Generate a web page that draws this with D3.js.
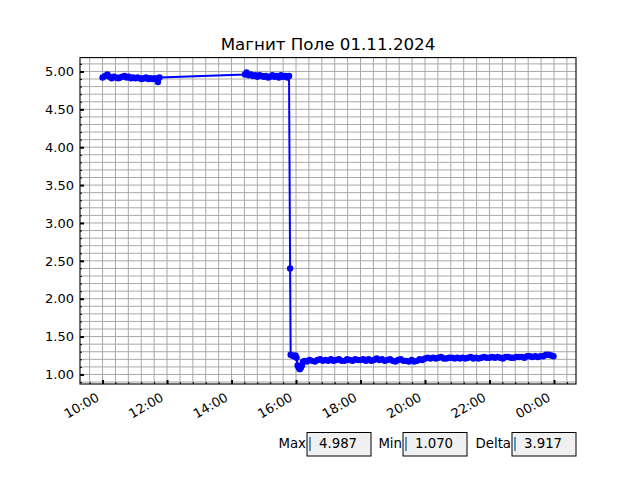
<!DOCTYPE html>
<html>
<head>
<meta charset="utf-8">
<script src="https://cdn.jsdelivr.net/npm/d3@7"></script>
<style>
    body { margin: 0; background: #fff; }
    svg { display: block; font-family: "DejaVu Sans", sans-serif; }
</style>
</head>
<body>
<svg id="chart" width="640" height="480"></svg>
<script>
const title = 'Магнит Поле 01.11.2024'

// readings (time of day, value)
const times = [
    '10:00','10:05','10:09','10:13','10:17','10:21','10:25','10:29','10:33','10:37','10:41','10:45','10:49','10:53','10:57',
    '11:01','11:05','11:09','11:13','11:17','11:21','11:25','11:29','11:33','11:37','11:41','11:43','11:46',
    '14:25','14:28','14:32','14:36','14:40','14:44','14:48','14:52','14:56',
    '15:00','15:04','15:08','15:12','15:16','15:20','15:24','15:28','15:32','15:36','15:40','15:44','15:47',
    '15:49','15:50','15:53','15:56','15:59',
    '16:01','16:03','16:05','16:07','16:09','16:11','16:13','16:16',
    '16:20','16:25','16:30','16:35','16:40','16:45','16:50','16:55',
    '17:00','17:05','17:10','17:15','17:20','17:25','17:30','17:35','17:40','17:45','17:50','17:55',
    '18:00','18:05','18:10','18:15','18:20','18:25','18:30','18:35','18:40','18:45','18:50','18:55',
    '19:00','19:05','19:10','19:15','19:20','19:25','19:30','19:35','19:40','19:45','19:50','19:55',
    '20:00','20:05','20:10','20:15','20:20','20:25','20:30','20:35','20:40','20:45','20:50','20:55',
    '21:00','21:05','21:10','21:15','21:20','21:25','21:30','21:35','21:40','21:45','21:50','21:55',
    '22:00','22:05','22:10','22:15','22:20','22:25','22:30','22:35','22:40','22:45','22:50','22:55',
    '23:00','23:05','23:10','23:15','23:20','23:25','23:30','23:35','23:40','23:45','23:50','23:55',
    '23:59'
]

const values = [
    4.92,4.94,4.96,4.93,4.91,4.93,4.92,4.91,4.92,4.93,4.94,4.92,4.93,4.91,4.92,
    4.91,4.92,4.91,4.90,4.91,4.92,4.90,4.91,4.90,4.91,4.90,4.86,4.92,
    4.96,4.987,4.95,4.96,4.94,4.95,4.93,4.95,4.94,
    4.93,4.94,4.92,4.93,4.95,4.93,4.94,4.92,4.95,4.93,4.94,4.92,4.94,
    2.40,1.26,1.25,1.24,1.25,
    1.22,1.12,1.09,1.07,1.09,1.12,1.17,1.18,
    1.17,1.19,1.18,1.17,1.19,1.20,1.18,1.19,
    1.18,1.20,1.18,1.19,1.20,1.18,1.18,1.20,1.19,1.18,1.20,1.19,
    1.19,1.20,1.18,1.20,1.18,1.19,1.21,1.19,1.20,1.18,1.19,1.20,
    1.18,1.17,1.19,1.20,1.18,1.18,1.17,1.19,1.17,1.18,1.20,1.19,
    1.21,1.22,1.21,1.22,1.21,1.22,1.23,1.21,1.21,1.22,1.22,1.21,
    1.22,1.21,1.22,1.21,1.22,1.23,1.21,1.22,1.21,1.22,1.23,1.22,
    1.22,1.23,1.22,1.23,1.22,1.21,1.23,1.23,1.22,1.22,1.23,1.23,
    1.23,1.22,1.24,1.24,1.23,1.24,1.23,1.24,1.24,1.26,1.26,1.25,
    1.24
]

const xTickLabels = ['10:00','12:00','14:00','16:00','18:00','20:00','22:00','00:00']
const yTickValues = [1.0, 1.5, 2.0, 2.5, 3.0, 3.5, 4.0, 4.5, 5.0]
const statLabels = ['Max', 'Min', 'Delta']

//times before 06:00 belong to the next day
const toDate = s => {
    const [h, m] = s.split(':').map(Number)
    return new Date(2024, 10, h < 6 ? 2 : 1, h, m)
}

const data = times.map((t, i) => ({date: toDate(t), value: values[i]}))

const svg = d3.select('#chart')
const mLeft = 80, mRight = 576, mTop = 57.6, mBottom = 384

//scales with 5% margins like matplotlib
const [t0, t1] = d3.extent(data, d => d.date),
      padT = (t1 - t0) * 0.05,
      [v0, v1] = d3.extent(values),
      padV = (v1 - v0) * 0.05

const xScale = d3.scaleTime()
                 .domain([new Date(+t0 - padT), new Date(+t1 + padT)])
                 .range([mLeft, mRight])

const yScale = d3.scaleLinear()
                 .domain([v0 - padV, v1 + padV])
                 .range([mBottom, mTop])

//minor ticks: every 24 min and every 0.1
const [dx0, dx1] = xScale.domain()
const xMinor = d3.timeMinute.range(dx0, dx1).filter(d => (d.getHours() * 60 + d.getMinutes()) % 24 === 0)
const yMinor = d3.ticks(yScale.domain()[0], yScale.domain()[1], 50)
const xMajor = xTickLabels.map(toDate)

//grid
const grid = svg.append('g').attr('stroke', '#a8a8a8').attr('stroke-width', 1)
grid.selectAll('.gx')
    .data(xMinor)
    .join('line')
    .attr('x1', d => xScale(d)).attr('x2', d => xScale(d))
    .attr('y1', mTop).attr('y2', mBottom)
grid.selectAll('.gy')
    .data(yMinor)
    .join('line')
    .attr('x1', mLeft).attr('x2', mRight)
    .attr('y1', d => yScale(d)).attr('y2', d => yScale(d))

//line + markers
const line = d3.line().x(d => xScale(d.date)).y(d => yScale(d.value))
svg.append('path')
   .datum(data)
   .attr('d', line)
   .attr('fill', 'none')
   .attr('stroke', '#0000ff')
   .attr('stroke-width', 2)

svg.append('g')
   .selectAll('circle')
   .data(data)
   .join('circle')
   .attr('cx', d => xScale(d.date))
   .attr('cy', d => yScale(d.value))
   .attr('r', 3.2)
   .attr('fill', '#0000ff')

//axes, ticks pointing inward
const styleAxis = g => {
    g.select('.domain').remove()
    g.selectAll('line').attr('stroke', '#000')
    g.selectAll('text').attr('fill', '#000').style('font-size', '13px').style('font-family', '"DejaVu Sans"')
}

svg.append('g')
   .attr('transform', `translate(${mLeft},0)`)
   .call(d3.axisLeft(yScale).tickValues(yMinor).tickSize(-2).tickFormat(''))
   .call(styleAxis)
   .selectAll('line').attr('stroke-width', 1)

svg.append('g')
   .attr('transform', `translate(${mLeft},0)`)
   .call(d3.axisLeft(yScale).tickValues(yTickValues).tickSize(-4).tickPadding(6).tickFormat(d3.format('.2f')))
   .call(styleAxis)
   .selectAll('line').attr('stroke-width', 2)

svg.append('g')
   .attr('transform', `translate(0,${mBottom})`)
   .call(d3.axisBottom(xScale).tickValues(xMinor).tickSize(-2).tickFormat(''))
   .call(styleAxis)
   .selectAll('line').attr('stroke-width', 1)

const xAxis = svg.append('g')
   .attr('transform', `translate(0,${mBottom})`)
   .call(d3.axisBottom(xScale).tickValues(xMajor).tickSize(-4).tickFormat((d, i) => xTickLabels[i]))
   .call(styleAxis)

xAxis.selectAll('line').attr('stroke-width', 2)
xAxis.selectAll('text')
     .attr('text-anchor', 'end')
     .attr('dy', null)
     .attr('y', 0)
     .attr('transform', 'translate(-3,16) rotate(-30)')

//frame
svg.append('rect')
   .attr('x', mLeft).attr('y', mTop)
   .attr('width', mRight - mLeft).attr('height', mBottom - mTop)
   .attr('fill', 'none').attr('stroke', '#000').attr('stroke-width', 1.1)

svg.append('text')
   .attr('x', (mLeft + mRight) / 2).attr('y', 49.5)
   .attr('text-anchor', 'middle')
   .style('font-size', '16.7px')
   .text(title)

//text boxes with max / min / delta
const stats = [v1, v0, v1 - v0]
const boxX = [307, 403, 512]
const boxes = svg.append('g').style('font-size', '13.3px')
statLabels.forEach((lab, i) => {
    boxes.append('text')
         .attr('x', boxX[i] - 1).attr('y', 448)
         .attr('text-anchor', 'end')
         .text(lab)
    boxes.append('rect')
         .attr('x', boxX[i]).attr('y', 432.5)
         .attr('width', 64).attr('height', 23.5)
         .attr('fill', '#f0f0f0').attr('stroke', '#000').attr('stroke-width', 1)
    boxes.append('line')
         .attr('x1', boxX[i] + 3).attr('x2', boxX[i] + 3)
         .attr('y1', 437).attr('y2', 451)
         .attr('stroke', '#1f77b4').attr('stroke-width', 1.5)
    boxes.append('text')
         .attr('x', boxX[i] + 12).attr('y', 448)
         .text(stats[i].toFixed(3))
})
</script>
</body>
</html>
